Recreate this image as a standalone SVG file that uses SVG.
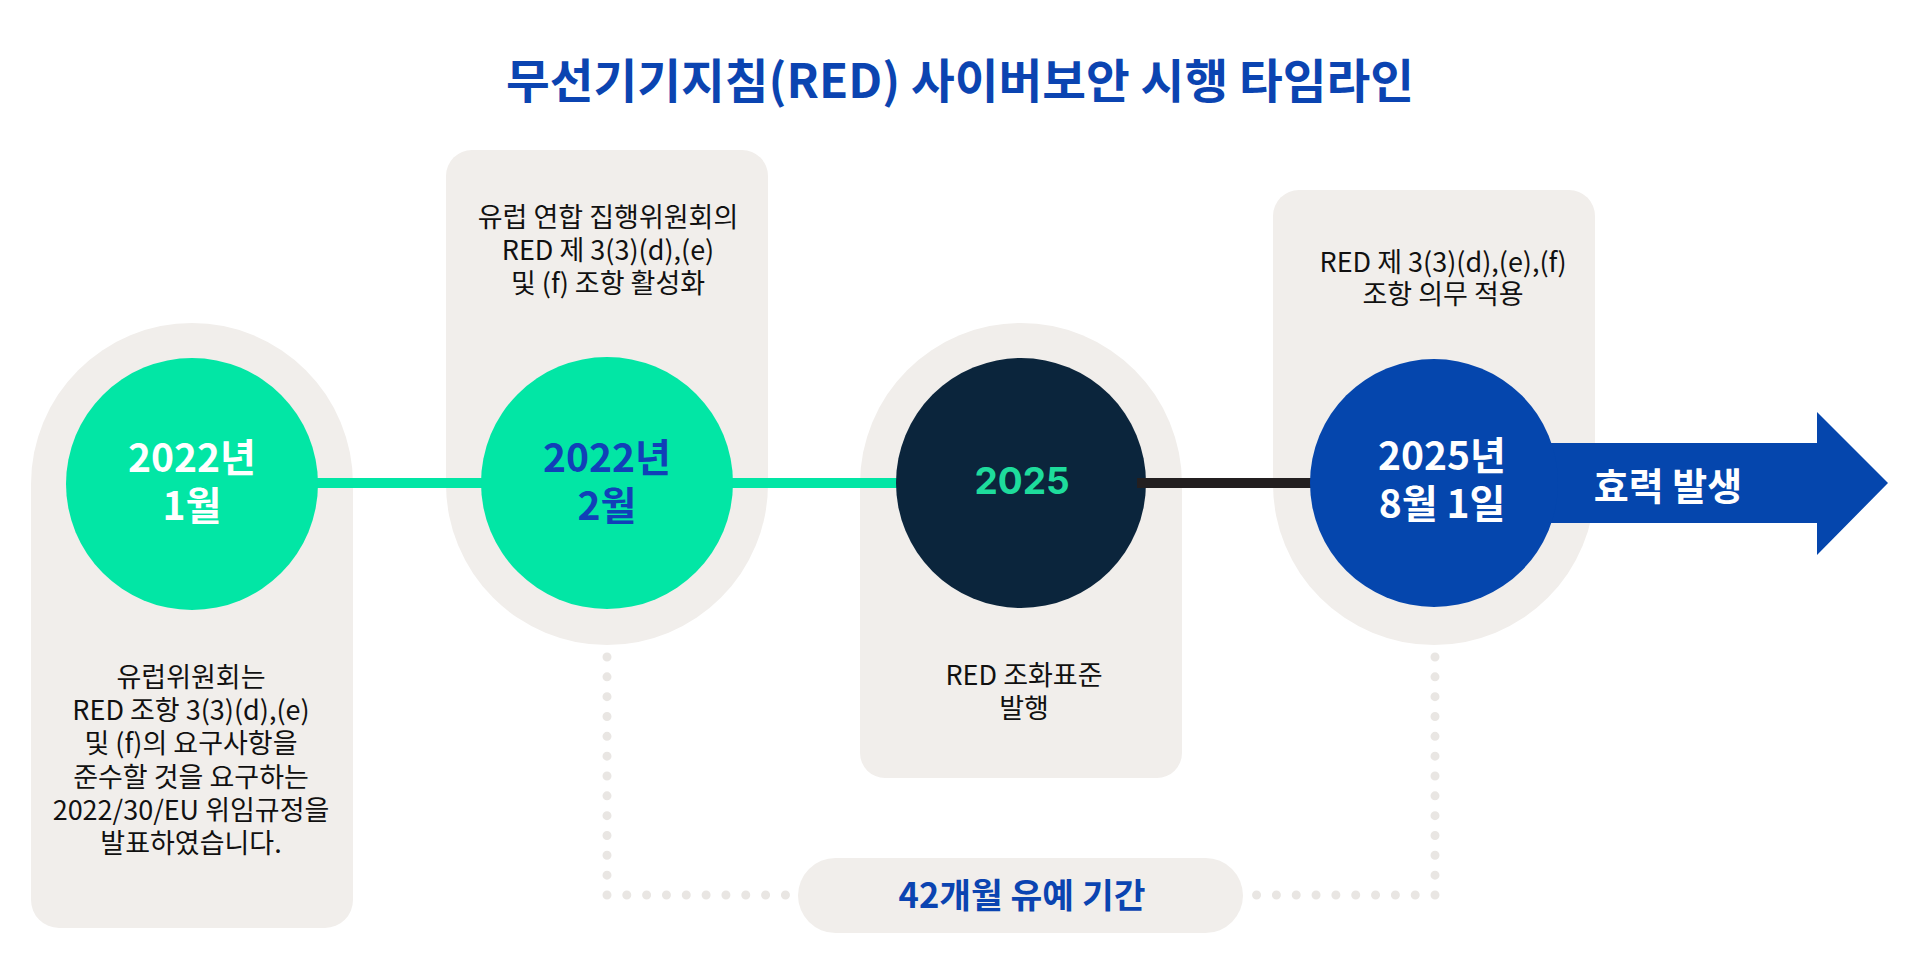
<svg xmlns="http://www.w3.org/2000/svg" width="1920" height="960" viewBox="0 0 1920 960">
  <style>
    .panel { fill: #F1EEEB; }
    .body { font-family: "Noto Sans CJK KR", "Noto Sans", sans-serif; font-size: 27px; fill: #111111; text-anchor: middle; }
    .date { font-family: "Noto Sans CJK KR", "Noto Sans", sans-serif; font-size: 39px; font-weight: 700; text-anchor: middle; }
    .dots { fill: none; stroke: #E9E6E3; stroke-width: 9; stroke-linecap: round; stroke-dasharray: 0 19.83; }
  </style>
  <rect width="1920" height="960" fill="#FFFFFF"/>

  <g id="title">
    <text x="960" y="98" text-anchor="middle" textLength="908" lengthAdjust="spacingAndGlyphs" font-family="'Noto Sans CJK KR', 'Noto Sans', sans-serif" font-size="47" font-weight="700" fill="#0B44B1">무선기기지침(RED) 사이버보안 시행 타임라인</text>
  </g>

  <g id="panel-2022-01">
    <path class="panel" d="M31,484 A161,161 0 0 1 353,484 V900 A28,28 0 0 1 325,928 H59 A28,28 0 0 1 31,900 Z"/>
  </g>
  <g id="panel-2022-02">
    <path class="panel" d="M446,484 V176 A26,26 0 0 1 472,150 H742 A26,26 0 0 1 768,176 V484 A161,161 0 0 1 446,484 Z"/>
  </g>
  <g id="panel-2025">
    <path class="panel" d="M860,484 A161,161 0 0 1 1182,484 V753 A25,25 0 0 1 1157,778 H885 A25,25 0 0 1 860,753 Z"/>
  </g>
  <g id="panel-2025-08-01">
    <path class="panel" d="M1273,484 V216 A26,26 0 0 1 1299,190 H1569 A26,26 0 0 1 1595,216 V484 A161,161 0 0 1 1273,484 Z"/>
  </g>

  <g id="connectors">
    <line x1="300" y1="483" x2="900" y2="483" stroke="#02E6A5" stroke-width="10"/>
    <path class="dots" d="M607,657 V895 H786"/>
    <path class="dots" d="M1435,657 V895 H1256"/>
  </g>

  <g id="node-2022-01">
    <circle cx="192" cy="484" r="126" fill="#02E6A5"/>
    <text class="date" fill="#FFFFFF"><tspan x="192" y="472">2022년</tspan><tspan x="192" y="520">1월</tspan></text>
    <text class="body"><tspan x="191" y="687">유럽위원회는</tspan><tspan x="191" y="720">RED 조항 3(3)(d),(e)</tspan><tspan x="191" y="753">및 (f)의 요구사항을</tspan><tspan x="191" y="787">준수할 것을 요구하는</tspan><tspan x="191" y="820">2022/30/EU 위임규정을</tspan><tspan x="191" y="853">발표하였습니다.</tspan></text>
  </g>

  <g id="node-2022-02">
    <circle cx="607" cy="483" r="126" fill="#02E6A5"/>
    <text class="date" fill="#1140B8"><tspan x="607" y="472">2022년</tspan><tspan x="607" y="520">2월</tspan></text>
    <text class="body"><tspan x="608" y="227">유럽 연합 집행위원회의</tspan><tspan x="608" y="260">RED 제 3(3)(d),(e)</tspan><tspan x="608" y="293">및 (f) 조항 활성화</tspan></text>
  </g>

  <g id="node-2025">
    <circle cx="1021" cy="483" r="125" fill="#0B253C"/>
    <text x="1022" y="494" text-anchor="middle" font-family="Inter, 'Noto Sans', sans-serif" font-size="37" font-weight="700" fill="#1EDC9C">2025</text>
    <text class="body"><tspan x="1024" y="685">RED 조화표준</tspan><tspan x="1024" y="718">발행</tspan></text>
  </g>

  <g id="connector-black">
    <line x1="1137" y1="483" x2="1320" y2="483" stroke="#231F20" stroke-width="10"/>
  </g>

  <g id="arrow-effect">
    <path d="M1500,443 H1817 V412 L1888,483 L1817,555 V523 H1500 Z" fill="#0546AD"/>
    <text x="1668" y="500" text-anchor="middle" font-family="'Noto Sans CJK KR', 'Noto Sans', sans-serif" font-size="38" font-weight="700" fill="#FFFFFF">효력 발생</text>
  </g>

  <g id="node-2025-08-01">
    <circle cx="1434" cy="483" r="124" fill="#0546AD"/>
    <text class="date" fill="#FFFFFF"><tspan x="1442" y="470">2025년</tspan><tspan x="1442" y="518">8월 1일</tspan></text>
    <text class="body"><tspan x="1443" y="272">RED 제 3(3)(d),(e),(f)</tspan><tspan x="1443" y="304">조항 의무 적용</tspan></text>
  </g>

  <g id="grace-period">
    <rect x="798" y="858" width="445" height="75" rx="37.5" fill="#F1EEEB"/>
    <text x="1022" y="908" text-anchor="middle" font-family="'Noto Sans CJK KR', 'Noto Sans', sans-serif" font-size="34.5" font-weight="700" fill="#0B44B1">42개월 유예 기간</text>
  </g>
</svg>
